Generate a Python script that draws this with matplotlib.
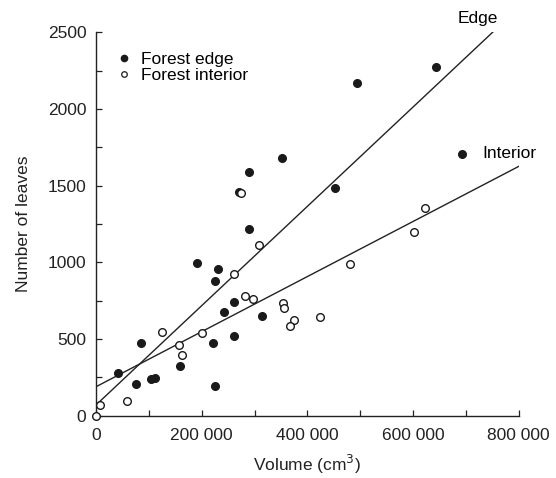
import numpy as np
import matplotlib
matplotlib.use("Agg")
import matplotlib.pyplot as plt
from matplotlib.lines import Line2D

plt.rcParams["font.family"] = ["Liberation Sans", "DejaVu Sans"]

# Forest edge (filled)
edge_volume = [643700, 494600, 352500, 289300, 452300, 270300, 289300, 191400,
               230600, 224300, 261500, 242000, 314000, 85300, 220500, 261500,
               41700, 158600, 76400, 104200, 111800, 224300, 691700]
edge_leaves = [2274, 2172, 1678, 1589, 1487, 1459, 1215, 993,
               959, 880, 739, 678, 650, 476, 476, 522,
               280, 324, 207, 239, 243, 196, 1707]

# Forest interior (open)
interior_volume = [0, 7600, 58100, 124400, 157300, 163600, 200300, 260300,
                   274700, 281100, 296300, 307600, 353100, 356300, 374600,
                   367700, 424500, 480100, 602700, 622200]
interior_leaves = [0, 72, 96, 543, 459, 398, 537, 926,
                   1452, 780, 759, 1111, 735, 700, 622,
                   583, 646, 987, 1196, 1352]

# Fitted lines: intercept, slope, x range
edge_fit = (70, 0.003238)
edge_range = [0, 751000]
interior_fit = (189, 0.001796)
interior_range = [0, 800000]

FS = 12.5

fig = plt.figure(figsize=(5.56, 4.78), dpi=100)
ax = fig.add_axes([0.1727, 0.1303, 0.7603, 0.8021])

# Regression lines
for fit, xr in [(edge_fit, edge_range), (interior_fit, interior_range)]:
    xs = np.array(xr)
    ax.plot(xs, fit[0] + fit[1] * xs, color="#222222", lw=1.0, zorder=2)

ax.plot(edge_volume, edge_leaves, "o", ms=5.5, color="#1a1a1a",
        mec="#1a1a1a", zorder=3, clip_on=False)
ax.plot(interior_volume, interior_leaves, "o", ms=5.5, mfc="white",
        mec="#1a1a1a", mew=1.0, zorder=3, clip_on=False)

# Line labels
ax.text(723000, 2593, "Edge", fontsize=FS, ha="center", va="center")
ax.text(732000, 1713, "Interior", fontsize=FS, ha="left", va="center")

# Legend
handles = [
    Line2D([], [], marker="o", ls="", ms=4.5, color="#1a1a1a"),
    Line2D([], [], marker="o", ls="", ms=4.0, mfc="white", mec="#1a1a1a", mew=0.9),
]
ax.legend(handles, ["Forest edge", "Forest interior"], loc="upper left",
          bbox_to_anchor=(0.0, 0.99), frameon=False, fontsize=FS,
          handletextpad=0.3, labelspacing=0.05, handlelength=1.4,
          borderaxespad=0.5)

ax.set_xlim(0, 800000)
ax.set_ylim(0, 2500)
ax.set_xticks([0, 200000, 400000, 600000, 800000])
ax.set_xticklabels(["0", "200 000", "400 000", "600 000", "800 000"])
ax.set_xticks(np.arange(0, 800001, 100000), minor=True)
ax.set_yticks(np.arange(0, 2501, 500))
ax.set_yticks(np.arange(0, 2501, 250), minor=True)

for s in ["top", "right"]:
    ax.spines[s].set_visible(False)
for s in ["left", "bottom"]:
    ax.spines[s].set_color("#222222")
    ax.spines[s].set_linewidth(1.0)

ax.tick_params(which="both", direction="in", length=4, width=0.9,
               color="#222222", labelsize=FS, labelcolor="#222222")
ax.tick_params(axis="x", pad=9)
ax.tick_params(axis="y", pad=7)

ax.set_xlabel("Volume (cm$^3$)", fontsize=FS, labelpad=7, color="#222222")
ax.set_ylabel("Number of leaves", fontsize=FS, labelpad=12, color="#222222")

fig.savefig("out.png", dpi=100)
